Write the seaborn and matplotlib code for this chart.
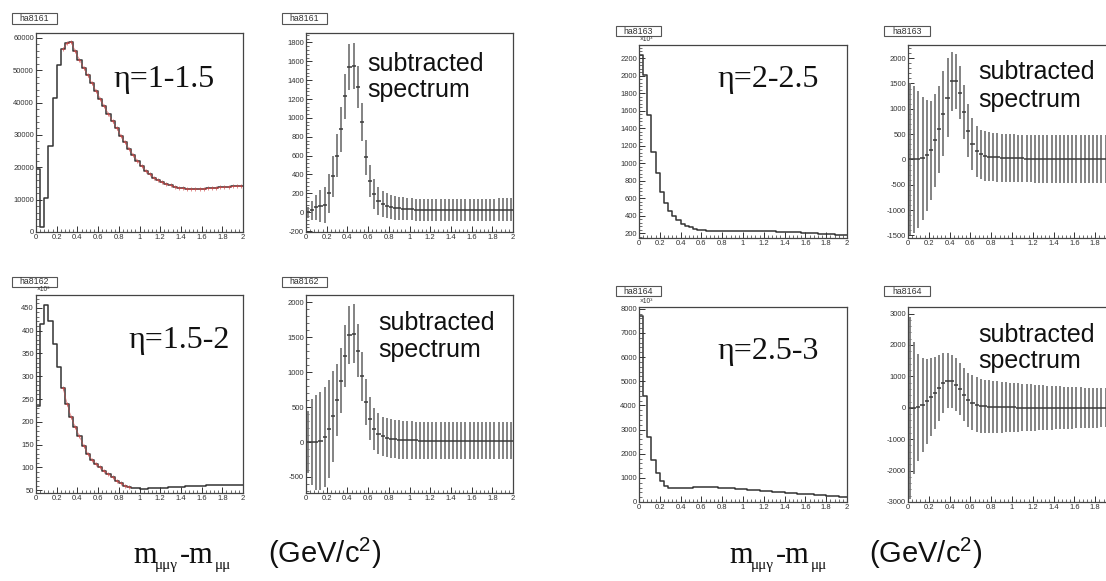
import numpy as np
import pandas as pd
import matplotlib
matplotlib.use("Agg")
import matplotlib.pyplot as plt
import seaborn as sns
from matplotlib.patches import Rectangle
from matplotlib.ticker import MultipleLocator, AutoMinorLocator, FuncFormatter

# ---- binning: 50 bins of 0.04 GeV/c^2 from 0 to 2 ----
BIN_W = 0.04
edges = np.linspace(0.0, 2.0, 51)
centers = 0.5 * (edges[:-1] + edges[1:])

# ---- raw m(mumugamma)-m(mumu) spectra ----
raw_8161 = [19500, 1500, 10500, 26500, 41500, 51500, 56500, 58300, 58800, 55800,
            53200, 50800, 48400, 46000, 43600, 41200, 38800, 36500, 34200, 32000,
            29800, 27700, 25700, 23800, 22000, 20400, 19000, 17800, 16800, 16000,
            15300, 14800, 14400, 14000, 13700, 13500, 13350, 13300, 13300, 13350,
            13400, 13500, 13600, 13700, 13800, 13900, 14000, 14100, 14200, 14300]

raw_8162 = [235, 415, 455, 420, 370, 320, 275, 240, 210, 188,
            168, 148, 130, 117, 108, 100, 92, 85, 78, 71,
            65, 60, 57, 55, 54, 53.5, 53.5, 54, 54.5, 55,
            55.5, 56, 56.5, 57, 57.5, 58, 58.5, 59, 59.5, 60,
            60, 60.5, 60.5, 61, 61, 61.5, 61.5, 62, 62, 62]

raw_8163 = [2240, 2010, 1550, 1130, 885, 665, 545, 450, 390, 345,
            307, 284, 265, 250, 238, 230, 225, 222, 221, 221,
            222, 223, 225, 226, 227, 228, 228, 227, 226, 225,
            223, 221, 219, 217, 215, 213, 211, 209, 207, 205,
            202, 199, 196, 193, 190, 187, 184, 181, 178, 175]

raw_8164 = [7700, 4400, 2700, 1750, 1200, 850, 650, 580, 560, 560,
            570, 585, 600, 610, 615, 620, 620, 615, 610, 600,
            590, 580, 565, 550, 535, 520, 507, 494, 481, 468,
            455, 442, 429, 416, 403, 390, 377, 364, 351, 338,
            325, 312, 299, 286, 273, 260, 247, 234, 221, 208]

# ---- background-subtracted spectra and their errors ----
sub_8161 = [0, 20, 50, 65, 80, 200, 380, 600, 880, 1230,
            1540, 1550, 1330, 960, 580, 330, 190, 120, 90, 70,
            55, 45, 40, 35, 32, 30, 28, 26, 25, 24,
            23, 22, 22, 21, 21, 20, 20, 20, 20, 20,
            21, 21, 22, 22, 23, 24, 25, 26, 27, 28]
err_8161 = [60, 100, 130, 170, 190, 210, 220, 230, 240, 240,
            240, 240, 220, 200, 190, 170, 160, 150, 140, 135,
            130, 128, 125, 122, 120, 118, 117, 116, 115, 115,
            115, 115, 115, 115, 115, 115, 115, 115, 115, 115,
            116, 117, 118, 119, 120, 121, 122, 123, 124, 125]

sub_8162 = [0, 0, 0, 10, 70, 190, 370, 600, 880, 1230,
            1530, 1550, 1310, 940, 570, 335, 190, 120, 80, 60,
            50, 40, 35, 30, 28, 25, 22, 20, 20, 18,
            18, 17, 17, 16, 16, 16, 15, 15, 15, 15,
            16, 16, 17, 17, 18, 18, 19, 19, 20, 20]
err_8162 = [450, 620, 680, 700, 720, 700, 650, 520, 470, 440,
            420, 420, 380, 350, 330, 310, 300, 290, 285, 280,
            278, 276, 274, 272, 270, 270, 268, 268, 266, 266,
            265, 265, 265, 265, 265, 265, 265, 265, 265, 265,
            265, 265, 265, 265, 265, 265, 265, 265, 265, 265]

sub_8163 = [0, 0, 0, 20, 80, 180, 380, 600, 900, 1220,
            1540, 1540, 1320, 940, 570, 310, 160, 100, 70, 55,
            45, 40, 35, 30, 28, 25, 22, 20, 18, 16,
            15, 14, 13, 12, 12, 11, 11, 10, 10, 10,
            10, 10, 11, 11, 12, 12, 13, 13, 14, 14]
err_8163 = [1500, 1450, 1350, 1220, 1100, 970, 920, 860, 840, 780,
            580, 550, 520, 540, 530, 510, 500, 490, 485, 480,
            478, 476, 474, 472, 470, 470, 470, 470, 470, 470,
            470, 470, 470, 470, 470, 470, 470, 470, 470, 470,
            470, 470, 470, 470, 470, 470, 470, 470, 470, 470]

sub_8164 = [0, 0, 20, 100, 210, 350, 470, 630, 790, 860,
            840, 740, 600, 420, 260, 160, 100, 70, 50, 40,
            30, 25, 20, 15, 12, 10, 8, 6, 5, 4,
            3, 2, 2, 1, 1, 0, 0, 0, 0, 0,
            0, 0, 0, 0, 0, 0, 0, 0, 0, 0]
err_8164 = [2900, 2100, 1700, 1500, 1350, 1250, 1150, 1050, 950, 880,
            840, 830, 820, 850, 860, 870, 870, 860, 850, 840,
            830, 820, 810, 800, 790, 780, 770, 760, 750, 740,
            730, 720, 712, 705, 698, 690, 683, 676, 670, 664,
            658, 652, 646, 640, 634, 628, 622, 616, 610, 605]

hist_names = ["ha8161", "ha8162", "ha8163", "ha8164"]
eta_labels = ["η=1-1.5", "η=1.5-2", "η=2-2.5", "η=2.5-3"]
sub_label = ["subtracted", "spectrum"]
xlabel_mass = ["m", "μμγ", "-m", "μμ"]
xlabel_unit = "(GeV/c$^2$)"

# ---- figure ----
sns.set_theme(style="ticks")
plt.rcParams["font.family"] = ["Liberation Sans", "DejaVu Sans"]
plt.rcParams["mathtext.default"] = "regular"

W, H = 1106, 581
fig = plt.figure(figsize=(W / 100, H / 100), dpi=100)
fig.patch.set_facecolor("white")

INK = "#333333"


def fx(x):
    return x / W


def fy(y):
    return 1 - y / H


def px_axes(l, t, r, b):
    return fig.add_axes([l / W, 1 - b / H, (r - l) / W, (b - t) / H])


def make_fmt(xmax_label=None):
    def f(v, p):
        if xmax_label is not None and v > xmax_label + 1e-9:
            return ""
        return f"{v:g}"
    return FuncFormatter(f)


def style(ax, ylim, ymajor, last_xlabel=None):
    ax.set_xlim(0, 2)
    ax.set_ylim(*ylim)
    ax.set_facecolor("white")
    ax.xaxis.set_major_locator(MultipleLocator(0.2))
    ax.xaxis.set_minor_locator(MultipleLocator(0.04))
    ax.yaxis.set_major_locator(MultipleLocator(ymajor))
    ax.yaxis.set_minor_locator(AutoMinorLocator(5))
    ax.xaxis.set_major_formatter(make_fmt(last_xlabel))
    ax.yaxis.set_major_formatter(make_fmt())
    ax.tick_params(which="both", direction="in", top=False, right=False,
                   labelsize=5.5, colors=INK, pad=1.5)
    ax.tick_params(which="major", length=4.5, width=0.7)
    ax.tick_params(which="minor", length=2.2, width=0.5)
    for s in ax.spines.values():
        s.set_color("#444444")
        s.set_linewidth(0.9)
    ax.set_xlabel("")
    ax.set_ylabel("")
    ax.grid(False)


def raw_panel(box, values, ylim, ymajor, fit_range=None, scaled=False):
    ax = px_axes(*box)
    df = pd.DataFrame({"mass": centers, "entries": values})
    sns.histplot(data=df, x="mass", weights="entries", binwidth=BIN_W,
                 binrange=(0.0, 2.0), element="step", fill=False, color=INK,
                 linewidth=1.1, ax=ax)
    if fit_range is not None:
        a, b = fit_range
        ax.plot(centers[a:b], df["entries"].to_numpy()[a:b], color="#d04848",
                lw=0.5, marker="+", ms=2.5, mew=0.6, alpha=0.75)
    style(ax, ylim, ymajor)
    if scaled:
        fig.text(fx(box[0] + 1), fy(box[1] - 2), "×10³", fontsize=4.8,
                 color=INK, ha="left", va="bottom")
    return ax


def sub_panel(box, values, errors, ylim, ymajor, last_xlabel=None):
    ax = px_axes(*box)
    ax.errorbar(centers, values, yerr=errors, fmt="none",
                ecolor="#7a7a7a", elinewidth=1.3, capsize=0)
    ax.errorbar(centers, values, xerr=BIN_W / 2, fmt="none",
                ecolor="#3a3a3a", elinewidth=1.1, capsize=0)
    style(ax, ylim, ymajor, last_xlabel)
    return ax


def name_box(l, t, r, b, text):
    fig.patches.append(Rectangle((fx(l), fy(b)), (r - l) / W, (b - t) / H,
                                 transform=fig.transFigure, fc="white",
                                 ec="#555555", lw=0.8))
    fig.text(fx((l + r) / 2), fy((t + b) / 2), text, fontsize=6.3,
             color=INK, ha="center", va="center")


# top-left pair
raw_panel((36, 33, 243, 232), raw_8161, (0, 61500), 10000, fit_range=(6, 50))
sub_panel((306, 33, 513, 232), sub_8161, err_8161, (-210, 1900), 200)
# bottom-left pair
raw_panel((36, 295, 243, 493), raw_8162, (44, 478), 50, fit_range=(6, 23),
          scaled=True)
sub_panel((306, 295, 513, 493), sub_8162, err_8162, (-730, 2105), 500)
# top-right pair
raw_panel((639, 45, 847, 238), raw_8163, (143, 2352), 200, scaled=True)
sub_panel((908, 45, 1116, 238), sub_8163, err_8163, (-1550, 2260), 500,
          last_xlabel=1.8)
# bottom-right pair
raw_panel((639, 307, 847, 502), raw_8164, (0, 8070), 1000, scaled=True)
sub_panel((908, 307, 1116, 502), sub_8164, err_8164, (-3000, 3210), 1000,
          last_xlabel=1.8)

# histogram name boxes
name_box(12, 13, 57, 24, hist_names[0])
name_box(282, 13, 327, 24, hist_names[0])
name_box(12, 277, 57, 287, hist_names[1])
name_box(282, 277, 327, 287, hist_names[1])
name_box(616, 26, 661, 36, hist_names[2])
name_box(884, 26, 930, 36, hist_names[2])
name_box(616, 286, 661, 296, hist_names[3])
name_box(884, 286, 930, 296, hist_names[3])

# pseudorapidity labels
for (x, y), lab in zip([(113, 87), (128, 348), (717, 87), (717, 359)], eta_labels):
    fig.text(fx(x), fy(y), lab, family="Liberation Serif", fontsize=23,
             color="#111111", ha="left", va="baseline")

# "subtracted spectrum" labels
for x, y1, y2 in [(367, 71, 97), (378, 330, 357), (978, 79, 107), (978, 342, 368)]:
    fig.text(fx(x), fy(y1), sub_label[0], fontsize=18, color="#111111",
             ha="left", va="baseline")
    fig.text(fx(x), fy(y2), sub_label[1], fontsize=18, color="#111111",
             ha="left", va="baseline")

# x-axis titles under each half
for x0, xu in [(133, 268), (729, 869)]:
    base = 563
    fig.text(fx(x0), fy(base), xlabel_mass[0], family="Liberation Serif",
             fontsize=22, color="#111111", va="baseline")
    fig.text(fx(x0 + 22), fy(base + 6), xlabel_mass[1], family="Liberation Serif",
             fontsize=11, color="#111111", va="baseline")
    fig.text(fx(x0 + 47), fy(base), xlabel_mass[2], family="Liberation Serif",
             fontsize=22, color="#111111", va="baseline")
    fig.text(fx(x0 + 82), fy(base + 6), xlabel_mass[3], family="Liberation Serif",
             fontsize=11, color="#111111", va="baseline")
    fig.text(fx(xu), fy(base), xlabel_unit, fontsize=21, color="#111111",
             va="baseline")

fig.savefig("out.png", dpi=100, facecolor="white")
